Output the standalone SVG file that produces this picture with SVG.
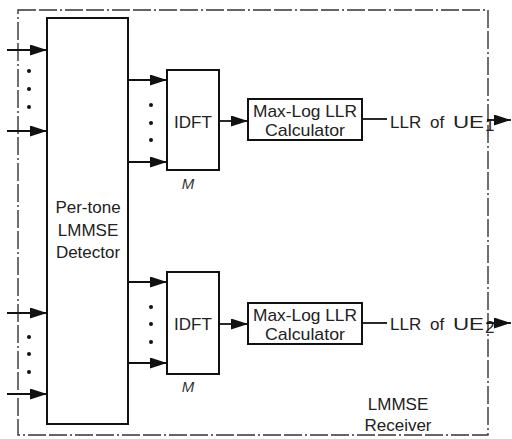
<svg xmlns="http://www.w3.org/2000/svg" width="512" height="439" viewBox="0 0 512 439">
<style>
.box{fill:#fff;stroke:#111;stroke-width:2}
.frame{fill:none;stroke:#333;stroke-width:1.4;stroke-dasharray:18 3 18 3 2 3}
.ln{stroke:#111;stroke-width:1.8;fill:none}
.t{font-family:"Liberation Sans",Arial,sans-serif;fill:#222;font-size:17px;text-anchor:middle}
.s{font-family:"Liberation Sans",Arial,sans-serif;fill:#222;font-size:17px}
.m{font-family:"Liberation Sans",Arial,sans-serif;fill:#333;font-size:15px;font-style:italic;text-anchor:middle}
.dot{fill:#111}
</style>
<defs>
<marker id="ah" markerUnits="userSpaceOnUse" markerWidth="18" markerHeight="12" refX="17" refY="5.5" orient="auto">
<path d="M0,0 L17,5.5 L0,11 z" fill="#111"/>
</marker>
</defs>
<rect class="frame" x="18" y="10" width="470" height="425"/>
<g id="detector">
<rect class="box" x="47" y="18" width="81" height="406"/>
<text class="t" x="88" y="213">Per-tone</text>
<text class="t" x="88" y="236">LMMSE</text>
<text class="t" x="88" y="258">Detector</text>
</g>
<g id="idft1">
<rect class="box" x="167" y="70" width="52" height="100"/>
<text class="t" x="193" y="128">IDFT</text>
<text class="m" x="188" y="189">M</text>
</g>
<g id="idft2">
<rect class="box" x="167" y="272" width="52" height="102"/>
<text class="t" x="193" y="330">IDFT</text>
<text class="m" x="188" y="392">M</text>
</g>
<g id="llr1">
<rect class="box" x="248" y="99" width="114" height="41"/>
<text class="t" x="305" y="117" font-size="16" textLength="104" lengthAdjust="spacingAndGlyphs">Max-Log LLR</text>
<text class="t" x="305" y="136" font-size="16" textLength="80" lengthAdjust="spacingAndGlyphs">Calculator</text>
</g>
<g id="llr2">
<rect class="box" x="248" y="303" width="114" height="41"/>
<text class="t" x="305" y="321" font-size="16" textLength="104" lengthAdjust="spacingAndGlyphs">Max-Log LLR</text>
<text class="t" x="305" y="340" font-size="16" textLength="80" lengthAdjust="spacingAndGlyphs">Calculator</text>
</g>
<g id="out1">
<text class="s" y="128"><tspan x="390">LLR</tspan><tspan x="430">of</tspan><tspan x="453" textLength="31" lengthAdjust="spacingAndGlyphs">UE</tspan></text>
<text class="s" x="485" y="131" font-size="10">1</text>
</g>
<g id="out2">
<text class="s" y="330"><tspan x="390">LLR</tspan><tspan x="430">of</tspan><tspan x="453" textLength="31" lengthAdjust="spacingAndGlyphs">UE</tspan></text>
<text class="s" x="485" y="333" font-size="10">2</text>
</g>
<g id="receiver-label">
<text class="t" x="398" y="410">LMMSE</text>
<text class="t" x="398" y="431">Receiver</text>
</g>
<g id="connectors">
<line class="ln" x1="7" y1="50" x2="47" y2="50" marker-end="url(#ah)"/>
<line class="ln" x1="7" y1="131" x2="47" y2="131" marker-end="url(#ah)"/>
<line class="ln" x1="7" y1="313" x2="47" y2="313" marker-end="url(#ah)"/>
<line class="ln" x1="7" y1="394" x2="47" y2="394" marker-end="url(#ah)"/>
<line class="ln" x1="128" y1="80" x2="167" y2="80" marker-end="url(#ah)"/>
<line class="ln" x1="128" y1="162" x2="167" y2="162" marker-end="url(#ah)"/>
<line class="ln" x1="128" y1="282" x2="167" y2="282" marker-end="url(#ah)"/>
<line class="ln" x1="128" y1="363" x2="167" y2="363" marker-end="url(#ah)"/>
<line class="ln" x1="219" y1="121" x2="248" y2="121" marker-end="url(#ah)"/>
<line class="ln" x1="219" y1="324" x2="248" y2="324" marker-end="url(#ah)"/>
<line class="ln" x1="362" y1="119" x2="387" y2="119"/>
<line class="ln" x1="362" y1="323" x2="387" y2="323"/>
<line class="ln" x1="487" y1="120" x2="511" y2="120" marker-end="url(#ah)"/>
<line class="ln" x1="487" y1="323" x2="511" y2="323" marker-end="url(#ah)"/>
<circle class="dot" cx="29" cy="71" r="2"/>
<circle class="dot" cx="29" cy="89" r="2"/>
<circle class="dot" cx="29" cy="107" r="2"/>
<circle class="dot" cx="29" cy="337" r="2"/>
<circle class="dot" cx="29" cy="354" r="2"/>
<circle class="dot" cx="29" cy="372" r="2"/>
<circle class="dot" cx="151" cy="105" r="2"/>
<circle class="dot" cx="151" cy="123" r="2"/>
<circle class="dot" cx="151" cy="140" r="2"/>
<circle class="dot" cx="151" cy="307" r="2"/>
<circle class="dot" cx="151" cy="324" r="2"/>
<circle class="dot" cx="151" cy="342" r="2"/>
</g>
</svg>
